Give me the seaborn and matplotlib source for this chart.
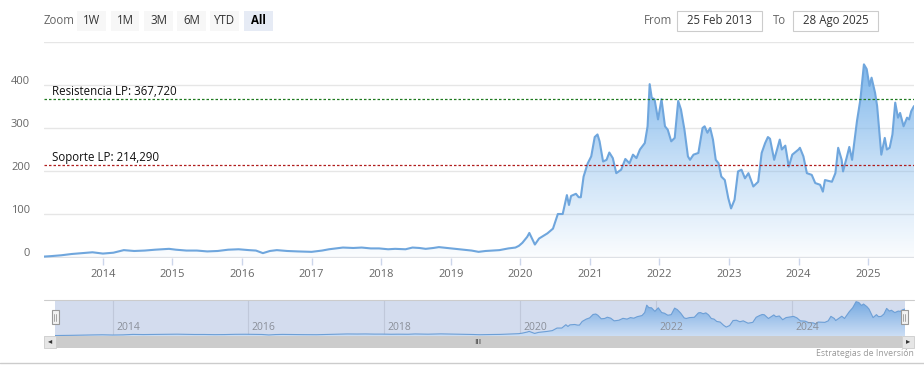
import numpy as np
import pandas as pd
import matplotlib
matplotlib.use("Agg")
import matplotlib.pyplot as plt
import seaborn as sns
from matplotlib.patches import Rectangle, Polygon
from matplotlib.colors import LinearSegmentedColormap

# ---------------- data ----------------
years = [2013.15, 2013.25, 2013.4, 2013.55, 2013.7, 2013.85, 2014.0, 2014.15, 2014.3, 2014.45,
         2014.6, 2014.75, 2014.95, 2015.05, 2015.2, 2015.35, 2015.5, 2015.65, 2015.8, 2015.95,
         2016.1, 2016.2, 2016.3, 2016.4, 2016.5, 2016.65, 2016.8, 2017.0, 2017.15, 2017.25,
         2017.45, 2017.6, 2017.72, 2017.85, 2017.97, 2018.1, 2018.2, 2018.35, 2018.45, 2018.55,
         2018.64, 2018.75, 2018.83, 2018.95, 2019.07, 2019.2, 2019.3, 2019.4, 2019.5, 2019.6,
         2019.7, 2019.83, 2019.93, 2019.98, 2020.03, 2020.1, 2020.13, 2020.21, 2020.27, 2020.39,
         2020.47, 2020.54, 2020.61, 2020.67, 2020.7, 2020.73, 2020.8, 2020.84, 2020.87, 2020.91,
         2020.97, 2021.02, 2021.07, 2021.11, 2021.14, 2021.19, 2021.24, 2021.28, 2021.33, 2021.38,
         2021.45, 2021.51, 2021.57, 2021.62, 2021.67, 2021.72, 2021.79, 2021.83, 2021.86, 2021.89,
         2021.93, 2021.98, 2022.03, 2022.08, 2022.12, 2022.17, 2022.22, 2022.27, 2022.31, 2022.36,
         2022.41, 2022.44, 2022.49, 2022.56, 2022.62, 2022.65, 2022.69, 2022.73, 2022.77, 2022.81,
         2022.85, 2022.89, 2022.94, 2022.99, 2023.03, 2023.08, 2023.13, 2023.18, 2023.23, 2023.28,
         2023.35, 2023.42, 2023.47, 2023.52, 2023.56, 2023.59, 2023.65, 2023.73, 2023.76, 2023.81,
         2023.86, 2023.91, 2024.0, 2024.02, 2024.07, 2024.12, 2024.19, 2024.24, 2024.31, 2024.35,
         2024.38, 2024.48, 2024.53, 2024.57, 2024.62, 2024.64, 2024.69, 2024.73, 2024.77, 2024.84,
         2024.89, 2024.94, 2024.98, 2025.02, 2025.05, 2025.1, 2025.13, 2025.19, 2025.24, 2025.27,
         2025.31, 2025.35, 2025.39, 2025.43, 2025.46, 2025.51, 2025.56, 2025.59, 2025.62, 2025.66]
values = [1, 2, 4, 7, 9, 11, 8, 10, 16, 14,
          15, 17, 19, 17, 15, 15, 13, 14, 17, 18,
          16, 15, 9, 14, 16, 14, 13, 12, 15, 18,
          22, 21, 22, 20, 20, 18, 19, 18, 22, 21,
          19, 21, 23, 21, 19, 17, 15, 12, 14, 15,
          16, 20, 22, 26, 33, 47, 56, 29, 43, 55,
          66, 100, 100, 144, 121, 142, 147, 139, 139, 187,
          218, 234, 279, 285, 269, 222, 226, 243, 230, 195,
          203, 228, 218, 238, 230, 250, 265, 304, 402, 370,
          367, 320, 367, 304, 296, 269, 277, 363, 343, 296,
          234, 226, 238, 242, 300, 304, 289, 300, 273, 226,
          218, 187, 179, 137, 113, 133, 199, 203, 183, 195,
          164, 175, 242, 265, 279, 275, 226, 273, 250, 259,
          210, 238, 250, 254, 234, 195, 191, 172, 168, 152,
          179, 175, 195, 254, 226, 199, 230, 256, 226, 316,
          367, 448, 437, 398, 417, 382, 351, 238, 277, 250,
          254, 285, 359, 324, 335, 304, 324, 320, 339, 351]
resistencia = 367.720
soporte = 214.290
main_ticks = [2014, 2015, 2016, 2017, 2018, 2019, 2020, 2021, 2022, 2023, 2024, 2025]
nav_ticks = [2014, 2016, 2018, 2020, 2022, 2024]
y_ticks = [0, 100, 200, 300, 400, 500]
zoom_buttons = ["1W", "1M", "3M", "6M", "YTD", "All"]
date_from = "25 Feb 2013"
date_to = "28 Ago 2025"

df = pd.DataFrame({"year": years, "value": values})

W, H = 924, 376
sns.set_theme(style="white")
plt.rcParams["font.family"] = ["Open Sans", "DejaVu Sans"]

fig = plt.figure(figsize=(W / 100, H / 100), dpi=100)
fig.patch.set_facecolor("white")


def ax_rect(l, t, r, b):
    return [l / W, 1 - b / H, (r - l) / W, (b - t) / H]


def fx(x):
    return x / W


def fy(y):
    return 1 - y / H


X0, X1 = 2013.153, 2025.66
LINE = "#6fa6dd"

# ---------------- main axes ----------------
ax = fig.add_axes(ax_rect(44, 42, 914, 258.3))
ax.set_xlim(X0, X1)
ax.set_ylim(-3, 500)
for yv in y_ticks:
    ax.axhline(yv, color="#e6e6e6", lw=1, zorder=0)

# gradient fill under curve
grad = np.linspace(0, 1, 256).reshape(-1, 1)
cmap = LinearSegmentedColormap.from_list(
    "g", [(0.486, 0.710, 0.925, 0.03), (0.486, 0.710, 0.925, 0.45), (0.486, 0.710, 0.925, 1.0)])
im = ax.imshow(grad, extent=[X0, X1, -3, 460], origin="lower", aspect="auto", cmap=cmap, zorder=1)
poly_pts = [(X0, -3)] + list(zip(df["year"], df["value"])) + [(df["year"].iloc[-1], -3)]
clip = Polygon(poly_pts, closed=True, transform=ax.transData, facecolor="none", edgecolor="none")
ax.add_patch(clip)
im.set_clip_path(clip)

sns.lineplot(data=df, x="year", y="value", ax=ax, color=LINE, lw=1.5, zorder=3)

ax.axhline(resistencia, color="#1f7a1f", lw=0.9, ls=(0, (2, 1.6)), zorder=4)
ax.axhline(soporte, color="#b01e1e", lw=0.9, ls=(0, (2, 1.6)), zorder=4)
ax.text(X0 + 0.12, resistencia + 3, "Resistencia LP: " + f"{resistencia:.3f}".replace(".", ","),
        fontsize=8.3, color="#111111", va="bottom", ha="left", zorder=5)
ax.text(X0 + 0.12, soporte + 3, "Soporte LP: " + f"{soporte:.3f}".replace(".", ","),
        fontsize=8.3, color="#111111", va="bottom", ha="left", zorder=5)

for s in ax.spines.values():
    s.set_visible(False)
ax.set_xlabel("")
ax.set_ylabel("")
ax.set_yticks([])
ax.set_xticks(main_ticks)
ax.set_xticklabels([str(t) for t in main_ticks], fontsize=8, color="#666666")
ax.tick_params(axis="x", length=5, color="#ccd6eb", width=1, pad=3, direction="out", bottom=True)
ax.axhline(-3, color="#ccd6eb", lw=1, zorder=2)

# y labels (Highcharts style: left of plot, above gridline)
for yv in y_ticks[:-1]:
    ax.text(-0.016, yv + 9, str(yv), transform=ax.get_yaxis_transform(), ha="right", va="center",
            fontsize=8, color="#666666")

# ---------------- navigator ----------------
nav = fig.add_axes(ax_rect(55, 300, 905, 336))
nav.set_xlim(X0, X1)
nav.set_ylim(-5, 470)
nav.set_facecolor("#d3dcee")
for t in nav_ticks:
    nav.axvline(t, color="#c0c8da", lw=0.8, zorder=1)
grad2 = np.linspace(0, 1, 256).reshape(-1, 1)
cmap2 = LinearSegmentedColormap.from_list("g2", [(0.80, 0.87, 0.96, 1.0), (0.45, 0.66, 0.88, 1.0)])
im2 = nav.imshow(grad2, extent=[X0, X1, -5, 470], origin="lower", aspect="auto", cmap=cmap2, zorder=2)
clip2 = Polygon([(X0, -5)] + list(zip(df["year"], df["value"])) + [(df["year"].iloc[-1], -5)],
                closed=True, transform=nav.transData, facecolor="none", edgecolor="none")
nav.add_patch(clip2)
im2.set_clip_path(clip2)
nav.plot(df["year"], df["value"], color="#6d9fd6", lw=0.8, zorder=3)
for t in nav_ticks:
    nav.text(t + 0.05, 0.08, str(t), transform=nav.get_xaxis_transform(), fontsize=7.5,
             color="#8a8f99", ha="left", va="bottom", zorder=4)
nav.set_xticks([])
nav.set_yticks([])
for s in nav.spines.values():
    s.set_visible(False)

# navigator outline top line and handles
fig.add_artist(plt.Line2D([fx(44), fx(914)], [fy(300), fy(300)], color="#cccccc", lw=0.8))
for hx in (55, 904):
    fig.add_artist(Rectangle((fx(hx - 3.5), fy(324)), 7 / W, 14 / H, transform=fig.transFigure,
                             facecolor="#f2f2f2", edgecolor="#999999", lw=0.8))
    fig.add_artist(plt.Line2D([fx(hx - 1), fx(hx - 1)], [fy(314), fy(321)], color="#999999", lw=0.6))
    fig.add_artist(plt.Line2D([fx(hx + 1), fx(hx + 1)], [fy(314), fy(321)], color="#999999", lw=0.6))

# scrollbar
fig.add_artist(Rectangle((fx(44), fy(348)), 870 / W, 12 / H, transform=fig.transFigure,
                         facecolor="#f2f2f2", edgecolor="none"))
fig.add_artist(Rectangle((fx(56), fy(348)), 846 / W, 12 / H, transform=fig.transFigure,
                         facecolor="#cccccc", edgecolor="none"))
fig.add_artist(Rectangle((fx(44), fy(348)), 12 / W, 12 / H, transform=fig.transFigure,
                         facecolor="#e6e6e6", edgecolor="#cccccc", lw=0.6))
fig.add_artist(Rectangle((fx(902), fy(348)), 12 / W, 12 / H, transform=fig.transFigure,
                         facecolor="#e6e6e6", edgecolor="#cccccc", lw=0.6))
fig.text(fx(50), fy(342), "◂", fontsize=6, color="#333333", ha="center", va="center")
fig.text(fx(908), fy(342), "▸", fontsize=6, color="#333333", ha="center", va="center")
fig.text(fx(478), fy(342), "III", fontsize=6, color="#333333", ha="center", va="center")

# credits and bottom line
fig.text(fx(914), fy(354), "Estrategias de Inversión", fontsize=6.3, color="#999999",
         ha="right", va="center")
fig.add_artist(plt.Line2D([0, 1], [fy(362.5), fy(362.5)], color="#cccccc", lw=1))

# ---------------- range selector ----------------
fig.text(fx(44), fy(20), "Zoom", fontsize=8.3, color="#666666", ha="left", va="center")
btn_x = [77, 111, 144, 177, 210, 244]
btn_w = [29, 28, 29, 29, 29, 29]
for lbl, bx, bw in zip(zoom_buttons, btn_x, btn_w):
    sel = lbl == "All"
    fig.add_artist(Rectangle((fx(bx), fy(31)), bw / W, 20 / H, transform=fig.transFigure,
                             facecolor="#e6ebf5" if sel else "#f7f7f7", edgecolor="none"))
    fig.text(fx(bx + bw / 2), fy(20.5), lbl, fontsize=8.3, color="#000000" if sel else "#333333",
             ha="center", va="center", fontweight="bold" if sel else "normal")

fig.text(fx(644), fy(20), "From", fontsize=8.3, color="#666666", ha="left", va="center")
fig.text(fx(773), fy(20), "To", fontsize=8.3, color="#666666", ha="left", va="center")
for bx, txt in ((677, date_from), (793, date_to)):
    fig.add_artist(Rectangle((fx(bx), fy(31)), 85 / W, 20 / H, transform=fig.transFigure,
                             facecolor="white", edgecolor="#cccccc", lw=0.8))
    fig.text(fx(bx + 42.5), fy(20.5), txt, fontsize=8.3, color="#333333", ha="center", va="center")

fig.savefig("out.png", dpi=100, facecolor="white")
